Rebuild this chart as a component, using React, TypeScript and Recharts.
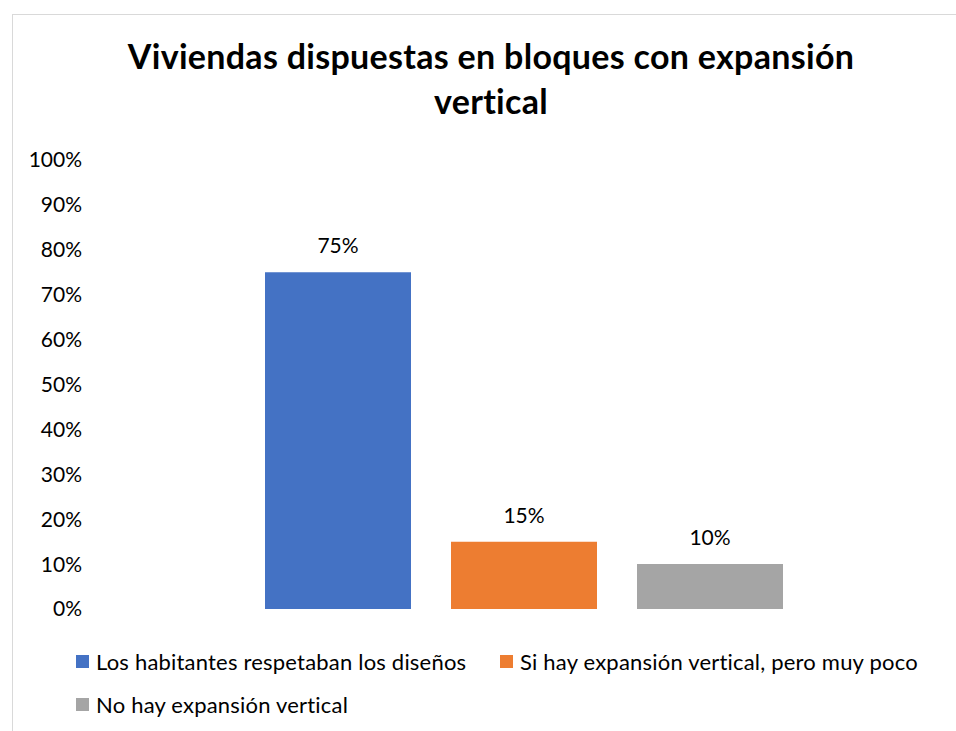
import { BarChart, Bar, XAxis, YAxis, LabelList } from 'recharts'

const title = ['Viviendas dispuestas en bloques con expansión', 'vertical']
const categories = ['Viviendas']
const seriesNames = [
  'Los habitantes respetaban los diseños',
  'Si hay expansión vertical, pero muy poco',
  'No hay expansión vertical',
]
const seriesValues = [75, 15, 10]
const yTicks = [0, 10, 20, 30, 40, 50, 60, 70, 80, 90, 100]
const COLORS = ['#4472C4', '#ED7D31', '#A5A5A5']

const FONT = 'Lato, "Open Sans", sans-serif'

const data = categories.map((c) => {
  const row: any = { name: c }
  seriesNames.forEach((s, i) => {
    row['s' + i] = seriesValues[i]
  })
  return row
})

export default function App() {
  return (
    <div style={{ position: 'fixed', left: 0, top: 0, width: 956, height: 731, overflow: 'hidden', background: '#fff', fontFamily: FONT }}>
      {/* chart frame */}
      <div style={{ position: 'absolute', left: 12, top: 14, width: 980, height: 760, border: '1px solid #d9d9d9' }} />

      {/* title */}
      <div style={{ position: 'absolute', left: 12, top: 33, width: 958, textAlign: 'center', fontWeight: 700, fontSize: 34, letterSpacing: 0.3, lineHeight: '45px', color: '#000' }}>
        {title.map((t) => <div key={t}>{t}</div>)}
      </div>

      <div style={{ position: 'absolute', left: 12, top: 14 }}>
        <BarChart width={944} height={717} data={data} margin={{ top: 146, right: 4, bottom: 122, left: 0 }} barSize={146} barGap={40}>
          <XAxis dataKey="name" hide />
          <YAxis
            width={83}
            domain={[0, 100]}
            ticks={yTicks}
            interval={0}
            axisLine={false}
            tickLine={false}
            tickSize={0}
            tickMargin={13}
            tick={{ fontSize: 21, fill: '#000', fontFamily: FONT }}
            tickFormatter={(v) => `${v}%`}
          />
          {seriesNames.map((s, i) => (
            <Bar key={s} dataKey={'s' + i} name={s} fill={COLORS[i]} isAnimationActive={false}>
              <LabelList dataKey={'s' + i} position="top" offset={19} formatter={(v: any) => `${v}%`} style={{ fontSize: 21, fill: '#000', fontFamily: FONT }} />
            </Bar>
          ))}
        </BarChart>
      </div>

      {/* legend */}
      <div style={{ position: 'absolute', left: 76, top: 640, width: 860, display: 'flex', flexWrap: 'wrap', fontSize: 22, letterSpacing: 0.2, color: '#000' }}>
        {seriesNames.map((s, i) => (
          <div key={s} style={{ width: 424, height: 43, display: 'flex', alignItems: 'center' }}>
            <span style={{ display: 'inline-block', width: 13, height: 13, background: COLORS[i], marginRight: 7 }} />
            <span>{s}</span>
          </div>
        ))}
      </div>
    </div>
  )
}
